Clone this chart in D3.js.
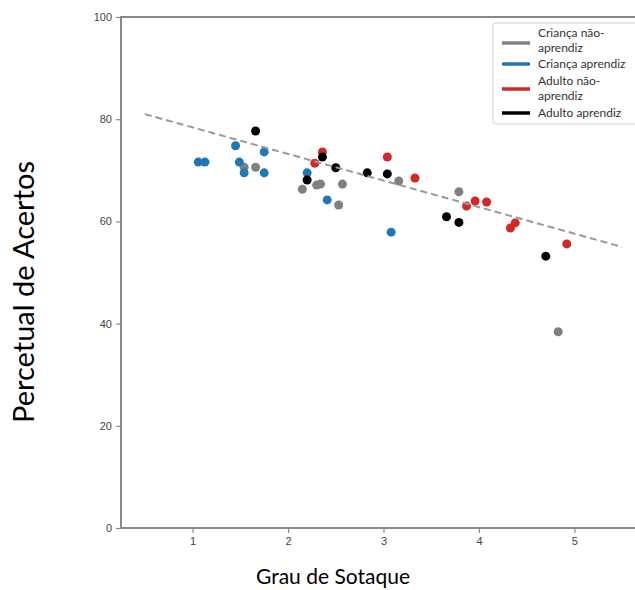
<!DOCTYPE html>
<html>
<head>
<meta charset="utf-8">
<script src="https://cdn.jsdelivr.net/npm/d3@7"></script>
<style>
  html, body { margin: 0; padding: 0; background: #fff; }
  svg { display: block; }
  .tick text { font-family: "Liberation Sans", Arial, sans-serif; font-size: 11px; fill: #444; }
  .tick line { stroke: #888; stroke-width: 1.2; }
</style>
</head>
<body>
<div id="chart"></div>
<script>
// valores: [grau de sotaque, percentual de acertos]
const criancaNaoAprendiz = [
  [1.54, 70.6], [1.66, 70.6], [2.15, 66.3], [2.30, 67.1], [2.34, 67.3],
  [2.57, 67.3], [2.53, 63.2], [3.16, 67.9], [3.79, 65.8], [4.83, 38.4]
];
const criancaAprendiz = [
  [1.06, 71.6], [1.13, 71.6], [1.45, 74.8], [1.75, 73.6], [1.49, 71.6],
  [1.54, 69.5], [1.75, 69.5], [2.20, 69.5], [2.41, 64.2], [3.08, 57.9]
];
const adultoNaoAprendiz = [
  [2.36, 73.6], [2.28, 71.4], [3.04, 72.6], [3.33, 68.5], [3.96, 64.0],
  [3.87, 63.0], [4.08, 63.8], [4.33, 58.7], [4.38, 59.7], [4.92, 55.6]
];
const adultoAprendiz = [
  [1.66, 77.7], [2.20, 68.1], [2.36, 72.6], [2.50, 70.5], [2.83, 69.5],
  [3.04, 69.3], [3.66, 60.9], [3.79, 59.8], [4.70, 53.2]
];
const tendenciaX = [0.5, 5.5];
const tendenciaY = [81.0, 55.0];

const xTicks = [1, 2, 3, 4, 5];
const yTicks = [0, 20, 40, 60, 80, 100];

const series = [
  { label: ['Criança não-', 'aprendiz'], color: '#808080', data: criancaNaoAprendiz },
  { label: ['Criança aprendiz'], color: '#1f77b4', data: criancaAprendiz },
  { label: ['Adulto não-', 'aprendiz'], color: '#d62728', data: adultoNaoAprendiz },
  { label: ['Adulto aprendiz'], color: '#000000', data: adultoAprendiz }
];

const width = 635;
const height = 590;
const plot = { left: 121, top: 17, right: 646, bottom: 528 };

const svg = d3.select('#chart').append('svg')
  .attr('width', width)
  .attr('height', height);

const x = d3.scaleLinear().domain([0.25, 5.75]).range([plot.left, plot.right]);
const y = d3.scaleLinear().domain([0, 100]).range([plot.bottom, plot.top]);

svg.append('g')
  .attr('transform', `translate(${plot.left},0)`)
  .call(d3.axisLeft(y).tickValues(yTicks).tickFormat(d3.format('d')).tickSize(5).tickPadding(4))
  .call((g) => g.select('.domain').remove());

svg.append('g')
  .attr('transform', `translate(0,${plot.bottom})`)
  .call(d3.axisBottom(x).tickValues(xTicks).tickFormat(d3.format('d')).tickSize(5).tickPadding(4))
  .call((g) => g.select('.domain').remove());

svg.append('rect')
  .attr('x', plot.left)
  .attr('y', plot.top)
  .attr('width', plot.right - plot.left)
  .attr('height', plot.bottom - plot.top)
  .attr('fill', 'none')
  .attr('stroke', '#888')
  .attr('stroke-width', 2);

for (const s of series) {
  svg.append('g')
    .selectAll('circle')
    .data(s.data)
    .join('circle')
    .attr('cx', (d) => x(d[0]))
    .attr('cy', (d) => y(d[1]))
    .attr('r', 4.5)
    .attr('fill', s.color);
}

const line = d3.line().x((d) => x(d[0])).y((d) => y(d[1]));
svg.append('path')
  .datum(tendenciaX.map((v, i) => [v, tendenciaY[i]]))
  .attr('d', line)
  .attr('fill', 'none')
  .attr('stroke', '#999')
  .attr('stroke-width', 2)
  .attr('stroke-dasharray', '7,4');

// legenda
const legend = svg.append('g').attr('transform', 'translate(493,23)');
legend.append('rect')
  .attr('width', 165)
  .attr('height', 101)
  .attr('rx', 3)
  .attr('fill', '#fff')
  .attr('fill-opacity', 0.85)
  .attr('stroke', '#d0d0d0');

const rows = [
  { lineY: 20, textY: [10, 25] },
  { lineY: 41, textY: [41] },
  { lineY: 66, textY: [58, 73] },
  { lineY: 90, textY: [90] }
];
series.forEach((s, i) => {
  const r = rows[i];
  legend.append('line')
    .attr('x1', 9).attr('x2', 37)
    .attr('y1', r.lineY).attr('y2', r.lineY)
    .attr('stroke', s.color)
    .attr('stroke-width', 3.5);
  s.label.forEach((t, j) => {
    legend.append('text')
      .attr('x', 45)
      .attr('y', r.textY[j])
      .attr('dy', '0.35em')
      .attr('font-family', 'Lato, "Liberation Sans", sans-serif')
      .attr('font-size', 12)
      .attr('fill', '#333')
      .text(t);
  });
});

svg.append('text')
  .attr('transform', 'translate(24,292) rotate(-90)')
  .attr('text-anchor', 'middle')
  .attr('dy', '0.35em')
  .attr('font-family', 'Lato, "Liberation Sans", sans-serif')
  .attr('font-size', 29)
  .attr('fill', '#000')
  .text('Percetual de Acertos');

svg.append('text')
  .attr('x', 333)
  .attr('y', 584)
  .attr('text-anchor', 'middle')
  .attr('font-family', 'Lato, "Liberation Sans", sans-serif')
  .attr('font-size', 21)
  .attr('fill', '#000')
  .text('Grau de Sotaque');
</script>
</body>
</html>
